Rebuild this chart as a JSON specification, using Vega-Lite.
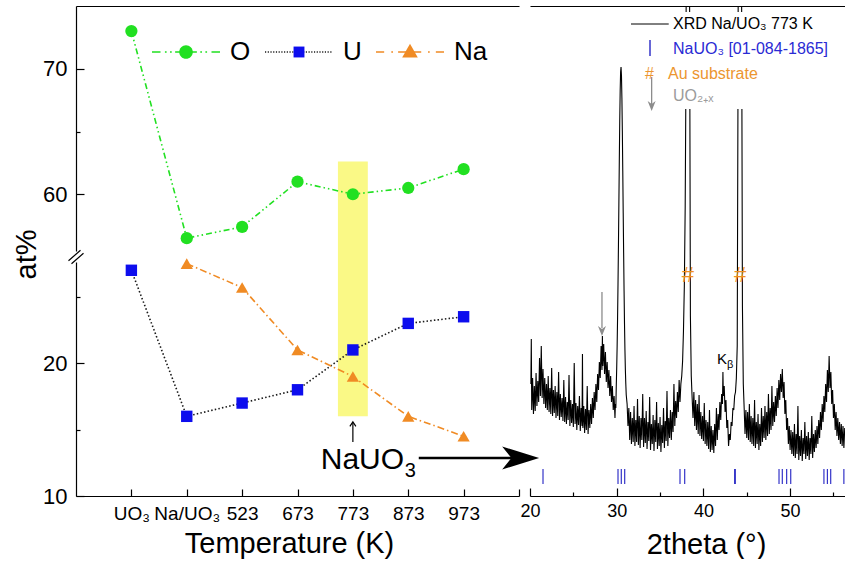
{
  "$schema": "https://vega.github.io/schema/vega-lite/v6.json",
  "padding": {"left": 12, "top": 6, "right": 0, "bottom": 0},
  "background": "white",
  "config": {
    "view": {"stroke": null},
    "font": "Liberation Sans",
    "axis": {"grid": false, "domainColor": "#000", "tickColor": "#000", "labelColor": "#000", "titleColor": "#000", "titleFontWeight": "normal", "labelFont": "Liberation Sans", "titleFont": "Liberation Sans", "domainWidth": 1.2, "tickWidth": 1.2, "labelFlush": false, "labelOverlap": false},
    "legend": {"labelFont": "Liberation Sans"},
    "text": {"font": "Liberation Sans"}
  },
  "datasets": {
    "comp": [
      {"seq": 1, "sample": "UO₃", "el": "O", "at": 73.0},
      {"seq": 2, "sample": "Na/UO₃", "el": "O", "at": 56.5},
      {"seq": 3, "sample": "523", "el": "O", "at": 57.4},
      {"seq": 4, "sample": "673", "el": "O", "at": 61.0},
      {"seq": 5, "sample": "773", "el": "O", "at": 60.0},
      {"seq": 6, "sample": "873", "el": "O", "at": 60.5},
      {"seq": 7, "sample": "973", "el": "O", "at": 62.0},
      {"seq": 1, "sample": "UO₃", "el": "U", "at": 27.0},
      {"seq": 2, "sample": "Na/UO₃", "el": "U", "at": 16.0},
      {"seq": 3, "sample": "523", "el": "U", "at": 17.0},
      {"seq": 4, "sample": "673", "el": "U", "at": 18.0},
      {"seq": 5, "sample": "773", "el": "U", "at": 21.0},
      {"seq": 6, "sample": "873", "el": "U", "at": 23.0},
      {"seq": 7, "sample": "973", "el": "U", "at": 23.5},
      {"seq": 2, "sample": "Na/UO₃", "el": "Na", "at": 27.5},
      {"seq": 3, "sample": "523", "el": "Na", "at": 25.7},
      {"seq": 4, "sample": "673", "el": "Na", "at": 21.0},
      {"seq": 5, "sample": "773", "el": "Na", "at": 19.0},
      {"seq": 6, "sample": "873", "el": "Na", "at": 16.0},
      {"seq": 7, "sample": "973", "el": "Na", "at": 14.5}
    ],
    "ref": [
      {"tt": 21.5}, {"tt": 30.15}, {"tt": 30.53}, {"tt": 30.92}, {"tt": 37.3}, {"tt": 37.84},
      {"tt": 43.6}, {"tt": 43.68}, {"tt": 48.72}, {"tt": 49.1}, {"tt": 49.6}, {"tt": 50.07},
      {"tt": 53.9}, {"tt": 54.3}, {"tt": 54.68}, {"tt": 56.2}
    ],
    "xrd": [
      {"tt": 20.1, "cts": 112}, {"tt": 20.15, "cts": 157}, {"tt": 20.2, "cts": 86}, {"tt": 20.3, "cts": 118}, {"tt": 20.4, "cts": 82},
      {"tt": 20.5, "cts": 110}, {"tt": 20.6, "cts": 85}, {"tt": 20.7, "cts": 123}, {"tt": 20.8, "cts": 90}, {"tt": 20.9, "cts": 115},
      {"tt": 21.0, "cts": 94}, {"tt": 21.1, "cts": 138}, {"tt": 21.2, "cts": 100}, {"tt": 21.3, "cts": 150}, {"tt": 21.4, "cts": 98},
      {"tt": 21.5, "cts": 127}, {"tt": 21.6, "cts": 92}, {"tt": 21.7, "cts": 118}, {"tt": 21.8, "cts": 88}, {"tt": 21.9, "cts": 112},
      {"tt": 22.0, "cts": 86}, {"tt": 22.1, "cts": 120}, {"tt": 22.2, "cts": 84}, {"tt": 22.3, "cts": 108}, {"tt": 22.4, "cts": 82},
      {"tt": 22.5, "cts": 128}, {"tt": 22.6, "cts": 80}, {"tt": 22.7, "cts": 106}, {"tt": 22.8, "cts": 83}, {"tt": 22.9, "cts": 110},
      {"tt": 23.0, "cts": 78}, {"tt": 23.1, "cts": 104}, {"tt": 23.2, "cts": 80}, {"tt": 23.3, "cts": 124}, {"tt": 23.4, "cts": 76},
      {"tt": 23.5, "cts": 102}, {"tt": 23.6, "cts": 79}, {"tt": 23.7, "cts": 98}, {"tt": 23.8, "cts": 75}, {"tt": 23.9, "cts": 116},
      {"tt": 24.0, "cts": 74}, {"tt": 24.1, "cts": 99}, {"tt": 24.2, "cts": 72}, {"tt": 24.3, "cts": 94}, {"tt": 24.4, "cts": 76},
      {"tt": 24.5, "cts": 121}, {"tt": 24.6, "cts": 70}, {"tt": 24.7, "cts": 96}, {"tt": 24.8, "cts": 73}, {"tt": 24.9, "cts": 92},
      {"tt": 25.0, "cts": 69}, {"tt": 25.1, "cts": 133}, {"tt": 25.2, "cts": 72}, {"tt": 25.3, "cts": 93}, {"tt": 25.4, "cts": 66},
      {"tt": 25.5, "cts": 90}, {"tt": 25.6, "cts": 71}, {"tt": 25.7, "cts": 100}, {"tt": 25.8, "cts": 65}, {"tt": 25.9, "cts": 88},
      {"tt": 26.0, "cts": 70}, {"tt": 26.05, "cts": 142}, {"tt": 26.1, "cts": 68}, {"tt": 26.2, "cts": 90}, {"tt": 26.3, "cts": 63},
      {"tt": 26.4, "cts": 87}, {"tt": 26.5, "cts": 66}, {"tt": 26.6, "cts": 110}, {"tt": 26.7, "cts": 62}, {"tt": 26.8, "cts": 86},
      {"tt": 26.9, "cts": 68}, {"tt": 27.0, "cts": 92}, {"tt": 27.1, "cts": 72}, {"tt": 27.2, "cts": 98}, {"tt": 27.3, "cts": 78},
      {"tt": 27.4, "cts": 104}, {"tt": 27.5, "cts": 86}, {"tt": 27.6, "cts": 112}, {"tt": 27.7, "cts": 94}, {"tt": 27.8, "cts": 122},
      {"tt": 27.9, "cts": 106}, {"tt": 28.0, "cts": 134}, {"tt": 28.1, "cts": 118}, {"tt": 28.2, "cts": 150}, {"tt": 28.3, "cts": 126},
      {"tt": 28.35, "cts": 160}, {"tt": 28.4, "cts": 130}, {"tt": 28.5, "cts": 152}, {"tt": 28.6, "cts": 122}, {"tt": 28.7, "cts": 144},
      {"tt": 28.8, "cts": 114}, {"tt": 28.9, "cts": 134}, {"tt": 29.0, "cts": 108}, {"tt": 29.1, "cts": 126}, {"tt": 29.2, "cts": 100},
      {"tt": 29.3, "cts": 120}, {"tt": 29.4, "cts": 94}, {"tt": 29.5, "cts": 110}, {"tt": 29.6, "cts": 86}, {"tt": 29.7, "cts": 100},
      {"tt": 29.8, "cts": 78}, {"tt": 29.85, "cts": 92}, {"tt": 29.9, "cts": 88}, {"tt": 29.95, "cts": 110}, {"tt": 30.0, "cts": 128},
      {"tt": 30.05, "cts": 150}, {"tt": 30.1, "cts": 178}, {"tt": 30.15, "cts": 212}, {"tt": 30.2, "cts": 250}, {"tt": 30.25, "cts": 292},
      {"tt": 30.3, "cts": 335}, {"tt": 30.35, "cts": 375}, {"tt": 30.4, "cts": 405}, {"tt": 30.45, "cts": 424}, {"tt": 30.5, "cts": 429},
      {"tt": 30.55, "cts": 420}, {"tt": 30.6, "cts": 398}, {"tt": 30.65, "cts": 365}, {"tt": 30.7, "cts": 325}, {"tt": 30.75, "cts": 283},
      {"tt": 30.8, "cts": 243}, {"tt": 30.85, "cts": 205}, {"tt": 30.9, "cts": 172}, {"tt": 30.95, "cts": 146}, {"tt": 31.0, "cts": 126},
      {"tt": 31.05, "cts": 112}, {"tt": 31.1, "cts": 101}, {"tt": 31.2, "cts": 92}, {"tt": 31.3, "cts": 70}, {"tt": 31.4, "cts": 88},
      {"tt": 31.5, "cts": 56}, {"tt": 31.6, "cts": 84}, {"tt": 31.7, "cts": 52}, {"tt": 31.8, "cts": 78}, {"tt": 31.9, "cts": 54},
      {"tt": 32.0, "cts": 90}, {"tt": 32.1, "cts": 50}, {"tt": 32.2, "cts": 76}, {"tt": 32.3, "cts": 54}, {"tt": 32.4, "cts": 97},
      {"tt": 32.5, "cts": 51}, {"tt": 32.6, "cts": 80}, {"tt": 32.7, "cts": 48}, {"tt": 32.8, "cts": 78}, {"tt": 32.9, "cts": 56},
      {"tt": 33.0, "cts": 102}, {"tt": 33.1, "cts": 49}, {"tt": 33.2, "cts": 78}, {"tt": 33.3, "cts": 53}, {"tt": 33.4, "cts": 85},
      {"tt": 33.5, "cts": 47}, {"tt": 33.6, "cts": 74}, {"tt": 33.7, "cts": 55}, {"tt": 33.8, "cts": 99}, {"tt": 33.9, "cts": 46},
      {"tt": 34.0, "cts": 72}, {"tt": 34.1, "cts": 52}, {"tt": 34.2, "cts": 81}, {"tt": 34.3, "cts": 45}, {"tt": 34.4, "cts": 76},
      {"tt": 34.5, "cts": 54}, {"tt": 34.6, "cts": 94}, {"tt": 34.7, "cts": 47}, {"tt": 34.8, "cts": 73}, {"tt": 34.9, "cts": 50},
      {"tt": 35.0, "cts": 79}, {"tt": 35.1, "cts": 44}, {"tt": 35.2, "cts": 71}, {"tt": 35.3, "cts": 53}, {"tt": 35.4, "cts": 88},
      {"tt": 35.5, "cts": 48}, {"tt": 35.6, "cts": 75}, {"tt": 35.7, "cts": 55}, {"tt": 35.8, "cts": 105}, {"tt": 35.9, "cts": 50},
      {"tt": 36.0, "cts": 78}, {"tt": 36.1, "cts": 58}, {"tt": 36.2, "cts": 86}, {"tt": 36.3, "cts": 56}, {"tt": 36.4, "cts": 84},
      {"tt": 36.5, "cts": 64}, {"tt": 36.6, "cts": 112}, {"tt": 36.7, "cts": 70}, {"tt": 36.8, "cts": 95}, {"tt": 36.9, "cts": 78},
      {"tt": 37.0, "cts": 104}, {"tt": 37.1, "cts": 84}, {"tt": 37.2, "cts": 116}, {"tt": 37.3, "cts": 94}, {"tt": 37.4, "cts": 112},
      {"tt": 37.5, "cts": 120}, {"tt": 37.6, "cts": 135}, {"tt": 37.7, "cts": 165}, {"tt": 37.8, "cts": 210}, {"tt": 37.9, "cts": 290},
      {"tt": 38.0, "cts": 440}, {"tt": 38.1, "cts": 1100}, {"tt": 38.2, "cts": 2500}, {"tt": 38.3, "cts": 1500}, {"tt": 38.4, "cts": 520},
      {"tt": 38.5, "cts": 180}, {"tt": 38.6, "cts": 120}, {"tt": 38.7, "cts": 98}, {"tt": 38.8, "cts": 78}, {"tt": 38.9, "cts": 104},
      {"tt": 39.0, "cts": 70}, {"tt": 39.1, "cts": 96}, {"tt": 39.2, "cts": 66}, {"tt": 39.3, "cts": 92}, {"tt": 39.4, "cts": 62},
      {"tt": 39.5, "cts": 101}, {"tt": 39.6, "cts": 60}, {"tt": 39.7, "cts": 84}, {"tt": 39.8, "cts": 57}, {"tt": 39.9, "cts": 80},
      {"tt": 40.0, "cts": 55}, {"tt": 40.1, "cts": 93}, {"tt": 40.2, "cts": 52}, {"tt": 40.3, "cts": 76}, {"tt": 40.4, "cts": 50},
      {"tt": 40.5, "cts": 74}, {"tt": 40.6, "cts": 47}, {"tt": 40.7, "cts": 86}, {"tt": 40.8, "cts": 44}, {"tt": 40.9, "cts": 70},
      {"tt": 41.0, "cts": 46}, {"tt": 41.1, "cts": 66}, {"tt": 41.2, "cts": 43}, {"tt": 41.3, "cts": 72}, {"tt": 41.4, "cts": 50},
      {"tt": 41.5, "cts": 88}, {"tt": 41.6, "cts": 56}, {"tt": 41.7, "cts": 82}, {"tt": 41.8, "cts": 66}, {"tt": 41.9, "cts": 94},
      {"tt": 42.0, "cts": 76}, {"tt": 42.1, "cts": 102}, {"tt": 42.2, "cts": 92}, {"tt": 42.25, "cts": 124}, {"tt": 42.3, "cts": 100},
      {"tt": 42.4, "cts": 110}, {"tt": 42.5, "cts": 84}, {"tt": 42.6, "cts": 96}, {"tt": 42.7, "cts": 68}, {"tt": 42.8, "cts": 76},
      {"tt": 42.9, "cts": 50}, {"tt": 43.0, "cts": 62}, {"tt": 43.1, "cts": 56}, {"tt": 43.2, "cts": 74}, {"tt": 43.3, "cts": 70},
      {"tt": 43.4, "cts": 88}, {"tt": 43.5, "cts": 86}, {"tt": 43.6, "cts": 100}, {"tt": 43.7, "cts": 104}, {"tt": 43.8, "cts": 118},
      {"tt": 43.9, "cts": 150}, {"tt": 44.0, "cts": 440}, {"tt": 44.1, "cts": 1100}, {"tt": 44.2, "cts": 2500}, {"tt": 44.3, "cts": 1500},
      {"tt": 44.4, "cts": 520}, {"tt": 44.5, "cts": 190}, {"tt": 44.6, "cts": 112}, {"tt": 44.7, "cts": 88}, {"tt": 44.8, "cts": 62},
      {"tt": 44.9, "cts": 86}, {"tt": 45.0, "cts": 58}, {"tt": 45.1, "cts": 84}, {"tt": 45.2, "cts": 56}, {"tt": 45.3, "cts": 92},
      {"tt": 45.4, "cts": 54}, {"tt": 45.5, "cts": 80}, {"tt": 45.6, "cts": 52}, {"tt": 45.7, "cts": 78}, {"tt": 45.8, "cts": 50},
      {"tt": 45.9, "cts": 96}, {"tt": 46.0, "cts": 48}, {"tt": 46.1, "cts": 74}, {"tt": 46.2, "cts": 52}, {"tt": 46.3, "cts": 82},
      {"tt": 46.4, "cts": 46}, {"tt": 46.5, "cts": 72}, {"tt": 46.6, "cts": 50}, {"tt": 46.7, "cts": 88}, {"tt": 46.8, "cts": 54},
      {"tt": 46.9, "cts": 80}, {"tt": 47.0, "cts": 58}, {"tt": 47.1, "cts": 90}, {"tt": 47.2, "cts": 56}, {"tt": 47.3, "cts": 84},
      {"tt": 47.4, "cts": 60}, {"tt": 47.5, "cts": 102}, {"tt": 47.6, "cts": 62}, {"tt": 47.7, "cts": 88}, {"tt": 47.8, "cts": 66},
      {"tt": 47.9, "cts": 110}, {"tt": 48.0, "cts": 70}, {"tt": 48.1, "cts": 94}, {"tt": 48.2, "cts": 74}, {"tt": 48.3, "cts": 100},
      {"tt": 48.4, "cts": 80}, {"tt": 48.5, "cts": 108}, {"tt": 48.6, "cts": 88}, {"tt": 48.7, "cts": 116}, {"tt": 48.8, "cts": 96},
      {"tt": 48.9, "cts": 122}, {"tt": 49.0, "cts": 104}, {"tt": 49.1, "cts": 127}, {"tt": 49.2, "cts": 98}, {"tt": 49.3, "cts": 114},
      {"tt": 49.4, "cts": 82}, {"tt": 49.5, "cts": 96}, {"tt": 49.6, "cts": 66}, {"tt": 49.7, "cts": 78}, {"tt": 49.8, "cts": 52},
      {"tt": 49.9, "cts": 70}, {"tt": 50.0, "cts": 46}, {"tt": 50.1, "cts": 66}, {"tt": 50.2, "cts": 42}, {"tt": 50.3, "cts": 64},
      {"tt": 50.4, "cts": 40}, {"tt": 50.5, "cts": 72}, {"tt": 50.6, "cts": 38}, {"tt": 50.7, "cts": 62}, {"tt": 50.8, "cts": 42},
      {"tt": 50.9, "cts": 90}, {"tt": 51.0, "cts": 36}, {"tt": 51.1, "cts": 60}, {"tt": 51.2, "cts": 40}, {"tt": 51.3, "cts": 66},
      {"tt": 51.4, "cts": 35}, {"tt": 51.5, "cts": 58}, {"tt": 51.6, "cts": 42}, {"tt": 51.7, "cts": 74}, {"tt": 51.8, "cts": 37},
      {"tt": 51.9, "cts": 60}, {"tt": 52.0, "cts": 40}, {"tt": 52.1, "cts": 64}, {"tt": 52.2, "cts": 36}, {"tt": 52.3, "cts": 58},
      {"tt": 52.4, "cts": 42}, {"tt": 52.5, "cts": 80}, {"tt": 52.6, "cts": 38}, {"tt": 52.7, "cts": 62}, {"tt": 52.8, "cts": 44},
      {"tt": 52.9, "cts": 66}, {"tt": 53.0, "cts": 48}, {"tt": 53.1, "cts": 70}, {"tt": 53.2, "cts": 52}, {"tt": 53.3, "cts": 76},
      {"tt": 53.4, "cts": 58}, {"tt": 53.5, "cts": 84}, {"tt": 53.6, "cts": 66}, {"tt": 53.7, "cts": 92}, {"tt": 53.8, "cts": 74},
      {"tt": 53.9, "cts": 100}, {"tt": 54.0, "cts": 84}, {"tt": 54.1, "cts": 112}, {"tt": 54.2, "cts": 94}, {"tt": 54.3, "cts": 126},
      {"tt": 54.4, "cts": 104}, {"tt": 54.5, "cts": 140}, {"tt": 54.6, "cts": 108}, {"tt": 54.7, "cts": 124}, {"tt": 54.8, "cts": 92},
      {"tt": 54.9, "cts": 106}, {"tt": 55.0, "cts": 78}, {"tt": 55.1, "cts": 92}, {"tt": 55.2, "cts": 66}, {"tt": 55.3, "cts": 84},
      {"tt": 55.4, "cts": 60}, {"tt": 55.5, "cts": 78}, {"tt": 55.6, "cts": 56}, {"tt": 55.7, "cts": 74}, {"tt": 55.8, "cts": 52},
      {"tt": 55.9, "cts": 72}, {"tt": 56.0, "cts": 50}, {"tt": 56.1, "cts": 70}, {"tt": 56.2, "cts": 48}, {"tt": 56.3, "cts": 68}
    ]
  },
  "columns": 2,
  "align": "each",
  "bounds": "flush",
  "spacing": {"row": 0, "column": 11},
  "resolve": {"scale": {"color": "independent", "shape": "independent"}, "legend": {"color": "independent", "shape": "independent"}},
  "concat": [
    {
      "width": 443,
      "height": 251,
      "resolve": {"scale": {"color": "independent", "shape": "independent"}, "legend": {"color": "independent", "shape": "independent"}, "axis": {"x": "independent", "y": "independent"}},
      "layer": [
        {
          "data": {"values": [{"x0": 4.73, "x1": 5.27, "lo": 55, "hi": 62.6}]},
          "mark": {"type": "rect", "color": "#f9f871", "opacity": 0.85},
          "encoding": {
            "x": {"field": "x0", "type": "quantitative", "scale": {"domain": [0, 8], "nice": false}, "axis": null},
            "x2": {"field": "x1"},
            "y": {"field": "lo", "type": "quantitative", "scale": {"domain": [55, 75], "nice": false}, "axis": null},
            "y2": {"field": "hi"}
          }
        },
        {
          "data": {"name": "comp"},
          "transform": [{"filter": "datum.el === 'O'"}],
          "mark": {"type": "line", "strokeWidth": 1.6, "color": "#21e021", "strokeDash": [6, 3, 1.5, 3, 1.5, 3]},
          "encoding": {
            "x": {"field": "seq", "type": "quantitative", "axis": {"orient": "top", "ticks": false, "labels": false, "title": null}},
            "y": {"field": "at", "type": "quantitative", "axis": {"orient": "left", "values": [60, 65, 70], "labelExpr": "datum.value == 65 ? '' : datum.label", "tickSize": {"condition": {"test": "datum.value == 65", "value": -4}, "value": -8}, "labelPadding": 17, "labelFontSize": 22, "title": null}}
          }
        },
        {
          "data": {"name": "comp"},
          "transform": [{"filter": "datum.el === 'O'"}],
          "mark": {"type": "point", "filled": true, "shape": "circle", "size": 150, "color": "#21e021", "opacity": 1},
          "encoding": {
            "x": {"field": "seq", "type": "quantitative", "axis": null},
            "y": {"field": "at", "type": "quantitative", "axis": null}
          }
        },
        {
          "data": {"values": []},
          "mark": {"type": "point", "filled": true, "opacity": 1},
          "encoding": {
            "x": {"field": "seq", "type": "quantitative", "axis": null},
            "y": {"field": "at", "type": "quantitative", "axis": null},
            "color": {
              "field": "el", "type": "nominal",
              "scale": {"domain": ["O", "U", "Na"], "range": ["#21e021", "#1a1a1a", "#f08b24"]},
              "legend": {"orient": "none", "legendX": 76, "legendY": 12, "direction": "horizontal", "title": null, "symbolSize": 4624, "labelFontSize": 26, "labelOffset": 10, "columnPadding": 14, "padding": 0, "labelColor": "#000", "symbolStrokeWidth": 0, "symbolStrokeColor": "transparent", "symbolOpacity": 1}
            },
            "shape": {
              "field": "el", "type": "nominal",
              "scale": {"domain": ["O", "U", "Na"], "range": [
                "M-1,-0.024h0.25v0.048h-0.25z M-0.62,-0.024h0.05v0.048h-0.05z M-0.47,-0.024h0.05v0.048h-0.05z M-0.32,-0.024h0.64v0.048h-0.64z M0.42,-0.024h0.05v0.048h-0.05z M0.57,-0.024h0.05v0.048h-0.05z M0.75,-0.024h0.25v0.048h-0.25z",
                "M-1,-0.024h0.035v0.048h-0.035z M-0.92,-0.024h0.035v0.048h-0.035z M-0.84,-0.024h0.035v0.048h-0.035z M-0.76,-0.024h0.035v0.048h-0.035z M-0.68,-0.024h0.035v0.048h-0.035z M-0.6,-0.024h0.035v0.048h-0.035z M-0.52,-0.024h0.035v0.048h-0.035z M-0.44,-0.024h0.035v0.048h-0.035z M-0.36,-0.024h0.035v0.048h-0.035z M-0.28,-0.024h0.035v0.048h-0.035z M-0.2,-0.024h0.035v0.048h-0.035z M-0.12,-0.024h0.035v0.048h-0.035z M-0.04,-0.024h0.035v0.048h-0.035z M0.04,-0.024h0.035v0.048h-0.035z M0.12,-0.024h0.035v0.048h-0.035z M0.2,-0.024h0.035v0.048h-0.035z M0.28,-0.024h0.035v0.048h-0.035z M0.36,-0.024h0.035v0.048h-0.035z M0.44,-0.024h0.035v0.048h-0.035z M0.52,-0.024h0.035v0.048h-0.035z M0.6,-0.024h0.035v0.048h-0.035z M0.68,-0.024h0.035v0.048h-0.035z M0.76,-0.024h0.035v0.048h-0.035z M0.84,-0.024h0.035v0.048h-0.035z M0.92,-0.024h0.035v0.048h-0.035z",
                "M-1,-0.024h0.24v0.048h-0.24z M-0.55,-0.024h0.05v0.048h-0.05z M-0.35,-0.024h0.68v0.048h-0.68z M0.53,-0.024h0.05v0.048h-0.05z M0.76,-0.024h0.24v0.048h-0.24z"
              ]},
              "legend": {"orient": "none", "legendX": 76, "legendY": 12, "direction": "horizontal", "title": null, "symbolSize": 4624, "labelFontSize": 26, "labelOffset": 10, "columnPadding": 14, "padding": 0, "labelColor": "#000", "symbolStrokeWidth": 0, "symbolStrokeColor": "transparent", "symbolOpacity": 1}
            }
          }
        },
        {
          "data": {"values": []},
          "mark": {"type": "point", "filled": true, "opacity": 1},
          "encoding": {
            "x": {"field": "seq", "type": "quantitative", "axis": null},
            "y": {"field": "at", "type": "quantitative", "axis": null},
            "color": {
              "field": "el", "type": "nominal",
              "scale": {"domain": ["O", "U", "Na"], "range": ["#21e021", "#0d0dee", "#f08b24"]},
              "legend": {"orient": "none", "legendX": 76, "legendY": 12, "direction": "horizontal", "title": null, "symbolSize": 4624, "labelFontSize": 26, "labelOffset": 10, "columnPadding": 14, "padding": 0, "labelOpacity": 0, "symbolStrokeWidth": 0, "symbolStrokeColor": "transparent", "symbolOpacity": 1}
            },
            "shape": {
              "field": "el", "type": "nominal",
              "scale": {"domain": ["O", "U", "Na"], "range": [
                "M-0.2,0a0.2,0.2 0 1,0 0.4,0a0.2,0.2 0 1,0 -0.4,0z",
                "M-0.16,-0.16h0.32v0.32h-0.32z",
                "M0,-0.24L0.23,0.16L-0.23,0.16z"
              ]},
              "legend": {"orient": "none", "legendX": 76, "legendY": 12, "direction": "horizontal", "title": null, "symbolSize": 4624, "labelFontSize": 26, "labelOffset": 10, "columnPadding": 14, "padding": 0, "labelOpacity": 0, "symbolStrokeWidth": 0, "symbolStrokeColor": "transparent", "symbolOpacity": 1}
            }
          }
        }
      ]
    },
    {
      "width": 315,
      "height": 251,
      "resolve": {"axis": {"x": "independent", "y": "independent"}},
      "layer": [
        {
          "data": {"name": "xrd"},
          "mark": {"type": "line", "clip": true, "strokeWidth": 1.1, "color": "#000"},
          "encoding": {
            "x": {"field": "tt", "type": "quantitative", "scale": {"domain": [20, 56.33], "nice": false}, "axis": {"orient": "top", "ticks": false, "labels": false, "title": null}},
            "y": {"field": "cts", "type": "quantitative", "scale": {"domain": [239, 490], "nice": false}, "axis": null}
          }
        },
        {
          "data": {"values": [{"from": 31.42, "to": 56.33, "lo": 387, "hi": 484}]},
          "mark": {"type": "rect", "color": "#ffffff", "opacity": 1},
          "encoding": {
            "x": {"field": "from", "type": "quantitative", "axis": null},
            "x2": {"field": "to"},
            "y": {"field": "lo", "type": "quantitative", "axis": null},
            "y2": {"field": "hi"}
          }
        },
        {
          "data": {"values": [{"from": 31.65, "to": 36.0, "cts": 472}]},
          "mark": {"type": "rule", "color": "#000", "strokeWidth": 1},
          "encoding": {
            "x": {"field": "from", "type": "quantitative", "axis": null},
            "x2": {"field": "to"},
            "y": {"field": "cts", "type": "quantitative", "axis": null}
          }
        },
        {
          "data": {"values": [{"tt": 33.84, "lo": 440, "hi": 456}]},
          "mark": {"type": "rule", "color": "#3434c8", "strokeWidth": 1.5},
          "encoding": {
            "x": {"field": "tt", "type": "quantitative", "axis": null},
            "y": {"field": "lo", "type": "quantitative", "axis": null},
            "y2": {"field": "hi"}
          }
        },
        {
          "data": {"values": [{"tt": 34.03, "lo": 392, "hi": 419}]},
          "mark": {"type": "rule", "color": "#8c8c8c", "strokeWidth": 1.3},
          "encoding": {
            "x": {"field": "tt", "type": "quantitative", "axis": null},
            "y": {"field": "lo", "type": "quantitative", "axis": null},
            "y2": {"field": "hi"}
          }
        },
        {
          "data": {"values": [{"tt": 34.03, "cts": 390}]},
          "mark": {"type": "point", "filled": true, "shape": "M-0.8,-1L0,1L0.8,-1L0,-0.4Z", "size": 100, "color": "#8c8c8c", "opacity": 1},
          "encoding": {
            "x": {"field": "tt", "type": "quantitative", "axis": null},
            "y": {"field": "cts", "type": "quantitative", "axis": null}
          }
        },
        {
          "data": {"values": [{"tt": 36.49, "cts": 472, "txt": "XRD Na/UO₃ 773 K"}]},
          "mark": {"type": "text", "align": "left", "baseline": "middle", "fontSize": 16, "color": "#000"},
          "encoding": {"x": {"field": "tt", "type": "quantitative", "axis": null}, "y": {"field": "cts", "type": "quantitative", "axis": null}, "text": {"field": "txt"}}
        },
        {
          "data": {"values": [{"tt": 36.49, "cts": 447, "txt": "NaUO₃ [01-084-1865]"}]},
          "mark": {"type": "text", "align": "left", "baseline": "middle", "fontSize": 16, "color": "#2a2ad4"},
          "encoding": {"x": {"field": "tt", "type": "quantitative", "axis": null}, "y": {"field": "cts", "type": "quantitative", "axis": null}, "text": {"field": "txt"}}
        },
        {
          "data": {"values": [{"tt": 36.49, "cts": 422, "txt": "Au substrate"}, {"tt": 33.84, "cts": 422, "txt": "#"}]},
          "mark": {"type": "text", "align": "left", "baseline": "middle", "fontSize": 16, "color": "#ec962f", "dx": -5},
          "encoding": {"x": {"field": "tt", "type": "quantitative", "axis": null}, "y": {"field": "cts", "type": "quantitative", "axis": null}, "text": {"field": "txt"}}
        },
        {
          "data": {"values": [{"tt": 36.49, "cts": 400, "txt": "UO₂₊ₓ"}]},
          "mark": {"type": "text", "align": "left", "baseline": "middle", "fontSize": 16, "color": "#9b9b9b"},
          "encoding": {"x": {"field": "tt", "type": "quantitative", "axis": null}, "y": {"field": "cts", "type": "quantitative", "axis": null}, "text": {"field": "txt"}}
        }
      ]
    },
    {
      "width": 443,
      "height": 239,
      "resolve": {"axis": {"x": "independent", "y": "independent"}},
      "layer": [
        {
          "data": {"values": [{"x0": 4.73, "x1": 5.27, "lo": 16, "hi": 28}]},
          "mark": {"type": "rect", "color": "#f9f871", "opacity": 0.85},
          "encoding": {
            "x": {"field": "x0", "type": "quantitative", "scale": {"domain": [0, 8], "nice": false}, "axis": null},
            "x2": {"field": "x1"},
            "y": {"field": "lo", "type": "quantitative", "scale": {"domain": [10, 28], "nice": false}, "axis": null},
            "y2": {"field": "hi"}
          }
        },
        {
          "data": {"name": "comp"},
          "transform": [{"filter": "datum.el === 'U'"}],
          "mark": {"type": "line", "strokeWidth": 1.6, "color": "#1a1a1a", "strokeDash": [1.5, 2.2]},
          "encoding": {
            "x": {"field": "seq", "type": "quantitative", "axis": {"orient": "bottom", "values": [1, 2, 3, 4, 5, 6, 7, 8], "labelExpr": "['', 'UO₃', 'Na/UO₃', '523', '673', '773', '873', '973', ''][datum.value]", "tickSize": -7, "labelPadding": 15, "labelFontSize": 19, "title": "Temperature (K)", "titleFontSize": 29, "titlePadding": 6, "titleX": 213}},
            "y": {"field": "at", "type": "quantitative", "axis": {"orient": "left", "values": [10, 15, 20, 25], "labelExpr": "datum.value % 10 == 0 ? datum.label : ''", "tickSize": {"condition": {"test": "datum.value % 10 != 0", "value": -4}, "value": -8}, "labelPadding": 17, "labelFontSize": 22, "title": "at%", "titleFontSize": 29, "titleX": -50, "titleY": -3, "titleAngle": 270, "titleAlign": "center", "titleBaseline": "middle"}}
          }
        },
        {
          "data": {"name": "comp"},
          "transform": [{"filter": "datum.el === 'Na'"}],
          "mark": {"type": "line", "strokeWidth": 1.6, "color": "#f08b24", "strokeDash": [7, 3, 1.5, 3]},
          "encoding": {
            "x": {"field": "seq", "type": "quantitative", "axis": null},
            "y": {"field": "at", "type": "quantitative", "axis": null}
          }
        },
        {
          "data": {"name": "comp"},
          "transform": [{"filter": "datum.el === 'U'"}],
          "mark": {"type": "point", "filled": true, "shape": "square", "size": 130, "color": "#0d0dee", "opacity": 1},
          "encoding": {
            "x": {"field": "seq", "type": "quantitative", "axis": null},
            "y": {"field": "at", "type": "quantitative", "axis": null}
          }
        },
        {
          "data": {"name": "comp"},
          "transform": [{"filter": "datum.el === 'Na'"}],
          "mark": {"type": "point", "filled": true, "shape": "triangle-up", "size": 150, "color": "#f08b24", "opacity": 1},
          "encoding": {
            "x": {"field": "seq", "type": "quantitative", "axis": null},
            "y": {"field": "at", "type": "quantitative", "axis": null}
          }
        },
        {
          "data": {"values": [{"seq": 5, "lo": 14.07, "hi": 15.5}]},
          "mark": {"type": "rule", "color": "#000", "strokeWidth": 1.2},
          "encoding": {
            "x": {"field": "seq", "type": "quantitative", "axis": null},
            "y": {"field": "lo", "type": "quantitative", "axis": null},
            "y2": {"field": "hi"}
          }
        },
        {
          "data": {"values": [{"seq": 5, "at": 15.45}]},
          "mark": {"type": "point", "filled": false, "shape": "M-1,0.9L0,-0.6L1,0.9", "size": 36, "stroke": "#000", "strokeWidth": 1.2, "opacity": 1},
          "encoding": {
            "x": {"field": "seq", "type": "quantitative", "axis": null},
            "y": {"field": "at", "type": "quantitative", "axis": null}
          }
        },
        {
          "data": {"values": [{"seq": 4.42, "at": 12.03, "txt": "NaUO"}]},
          "mark": {"type": "text", "align": "left", "baseline": "alphabetic", "fontSize": 30, "color": "#000"},
          "encoding": {
            "x": {"field": "seq", "type": "quantitative", "axis": null},
            "y": {"field": "at", "type": "quantitative", "axis": null},
            "text": {"field": "txt"}
          }
        },
        {
          "data": {"values": [{"seq": 4.42, "at": 12.03, "txt": "3"}]},
          "mark": {"type": "text", "align": "left", "baseline": "alphabetic", "fontSize": 20, "color": "#000", "dx": 84, "dy": 8},
          "encoding": {
            "x": {"field": "seq", "type": "quantitative", "axis": null},
            "y": {"field": "at", "type": "quantitative", "axis": null},
            "text": {"field": "txt"}
          }
        },
        {
          "data": {"values": [{"from": 6.19, "to": 8.0, "at": 12.86}]},
          "mark": {"type": "rule", "color": "#000", "strokeWidth": 2.5},
          "encoding": {
            "x": {"field": "from", "type": "quantitative", "axis": null},
            "x2": {"field": "to"},
            "y": {"field": "at", "type": "quantitative", "axis": null}
          }
        },
        {
          "data": {"values": [{"seq": 8.03, "at": 12.86}]},
          "mark": {"type": "point", "filled": true, "shape": "M1,0L-1,-0.62L-0.5,0L-1,0.62Z", "size": 1369, "color": "#000", "opacity": 1},
          "encoding": {
            "x": {"field": "seq", "type": "quantitative", "axis": null},
            "y": {"field": "at", "type": "quantitative", "axis": null}
          }
        },
        {
          "data": {"values": [{"seq": 0, "at": 28}]},
          "mark": {"type": "point", "filled": true, "shape": "M-0.4,-1.1L0.4,-1.1L0.4,1.1L-0.4,1.1Z", "size": 100, "color": "#ffffff", "opacity": 1},
          "encoding": {
            "x": {"field": "seq", "type": "quantitative", "axis": null},
            "y": {"field": "at", "type": "quantitative", "axis": null}
          }
        },
        {
          "data": {"values": [{"seq": 0, "at": 28}]},
          "mark": {"type": "point", "filled": false, "shape": "M-1,0.5L0.6,-0.9M-0.6,0.9L1,-0.5", "size": 225, "stroke": "#000", "strokeWidth": 1.2, "opacity": 1},
          "encoding": {
            "x": {"field": "seq", "type": "quantitative", "axis": null},
            "y": {"field": "at", "type": "quantitative", "axis": null}
          }
        }
      ]
    },
    {
      "width": 315,
      "height": 239,
      "resolve": {"axis": {"x": "independent", "y": "independent"}},
      "layer": [
        {
          "data": {"name": "xrd"},
          "mark": {"type": "line", "clip": true, "strokeWidth": 1.1, "color": "#000"},
          "encoding": {
            "x": {"field": "tt", "type": "quantitative", "scale": {"domain": [20, 56.33], "nice": false},
                  "axis": {"orient": "bottom", "values": [20, 25, 30, 35, 40, 45, 50, 55], "labelExpr": "datum.value % 10 == 0 ? datum.label : ''", "tickSize": {"condition": {"test": "datum.value % 10 != 0", "value": -4}, "value": -8}, "labelPadding": 14, "labelFontSize": 18, "title": "2theta (°)", "titleFontSize": 29, "titlePadding": 6, "titleX": 176}},
            "y": {"field": "cts", "type": "quantitative", "scale": {"domain": [0, 239], "nice": false}, "axis": null}
          }
        },
        {
          "data": {"name": "ref"},
          "mark": {"type": "rule", "color": "#3434c8", "strokeWidth": 1.2},
          "encoding": {
            "x": {"field": "tt", "type": "quantitative", "axis": null},
            "y": {"datum": 12, "type": "quantitative", "axis": null},
            "y2": {"datum": 27}
          }
        },
        {
          "data": {"values": [{"tt": 28.3, "lo": 168, "hi": 204}]},
          "mark": {"type": "rule", "color": "#8c8c8c", "strokeWidth": 1.3},
          "encoding": {
            "x": {"field": "tt", "type": "quantitative", "axis": null},
            "y": {"field": "lo", "type": "quantitative", "axis": null},
            "y2": {"field": "hi"}
          }
        },
        {
          "data": {"values": [{"tt": 28.3, "cts": 165}]},
          "mark": {"type": "point", "filled": true, "shape": "M-0.8,-1L0,1L0.8,-1L0,-0.4Z", "size": 100, "color": "#8c8c8c", "opacity": 1},
          "encoding": {
            "x": {"field": "tt", "type": "quantitative", "axis": null},
            "y": {"field": "cts", "type": "quantitative", "axis": null}
          }
        },
        {
          "data": {"values": [{"tt": 38.22, "cts": 221, "txt": "#"}, {"tt": 44.22, "cts": 221, "txt": "#"}]},
          "mark": {"type": "text", "align": "center", "baseline": "middle", "fontSize": 22, "color": "#f0901e"},
          "encoding": {"x": {"field": "tt", "type": "quantitative", "axis": null}, "y": {"field": "cts", "type": "quantitative", "axis": null}, "text": {"field": "txt"}}
        },
        {
          "data": {"values": [{"tt": 42.15, "cts": 137, "txt": "K"}]},
          "mark": {"type": "text", "align": "center", "baseline": "middle", "fontSize": 15, "color": "#000"},
          "encoding": {"x": {"field": "tt", "type": "quantitative", "axis": null}, "y": {"field": "cts", "type": "quantitative", "axis": null}, "text": {"field": "txt"}}
        },
        {
          "data": {"values": [{"tt": 42.15, "cts": 137, "txt": "β"}]},
          "mark": {"type": "text", "align": "center", "baseline": "middle", "fontSize": 11, "color": "#000", "dx": 8, "dy": 6},
          "encoding": {"x": {"field": "tt", "type": "quantitative", "axis": null}, "y": {"field": "cts", "type": "quantitative", "axis": null}, "text": {"field": "txt"}}
        }
      ]
    }
  ]
}
